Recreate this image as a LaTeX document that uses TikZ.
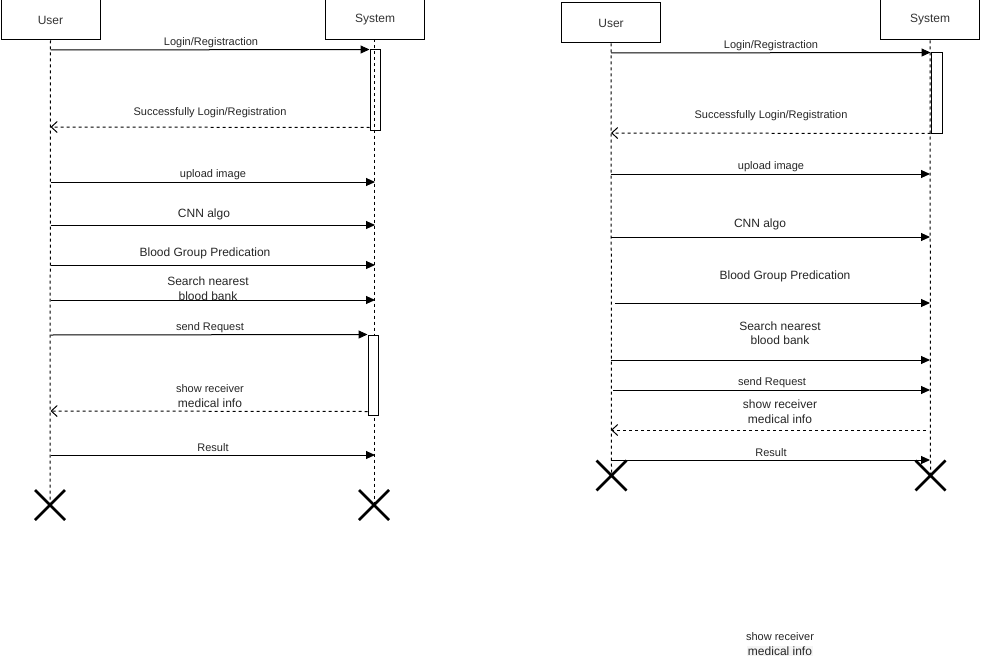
\documentclass[tikz,border=0pt]{standalone}
\usepackage{fontspec}
\setmainfont{Liberation Sans}
\usetikzlibrary{arrows.meta,calc}
\begin{document}
\begin{tikzpicture}[x=1pt,y=-1pt,
  actor/.style={draw, line width=1pt, minimum width=99pt, minimum height=40pt,
    inner sep=0pt, font=\fontsize{12}{14}\selectfont, text=black!80},
  life/.style={line width=1pt, dash pattern=on 3pt off 3pt},
  msg/.style={line width=1pt, -{Triangle[length=9pt,width=8pt]}},
  ret/.style={line width=1pt, dash pattern=on 3pt off 3pt,
    -{Straight Barb[length=6pt,width=11pt]}},
  actbox/.style={draw, line width=1pt, minimum width=10pt, inner sep=0pt},
  small/.style={font=\fontsize{11}{14}\selectfont, inner sep=0pt, align=center,
    text=black!85, yshift=-2pt},
  big/.style={font=\fontsize{12}{14.5}\selectfont, inner sep=0pt, align=center,
    text=black!85, yshift=-2pt},
  kill/.style={line width=2.6pt}
]
\useasboundingbox (0,0) rectangle (981,658);

% ---------------- first sequence ----------------
\node[actor] (u1) at (50.5,20) {User};
\node[actor] (s1) at (375,20) {System};
\coordinate (u1end) at (50,505);
\coordinate (s1end) at (374,505);
\draw[life] (u1.south) -- (u1end);
\draw[life] (s1.south) -- (s1end |- s1.south) -- (s1end);

% activation bars
\node[actbox, minimum height=80pt] (a1) at (375,90) {};
\node[actbox, minimum height=80pt, fill=white] (a2) at (373,375) {};

% messages
\draw[msg] (u1.south |- 0,50) -- (a1.north west);
\node[small] (t1) at (211,41) {Login/Registraction};
\draw[ret] ($(a1.south west)+(0,-3)$) -- (u1.south |- 0,127);
\node[small] (t2) at (210,111) {Successfully Login/Registration};
\draw[msg] (u1.south |- 0,182) -- (s1.south |- 0,182);
\node[small] (t3) at (213,173) {upload image};
\draw[msg] (u1.south |- 0,225) -- (s1.south |- 0,225);
\node[big] (t4) at (204,212) {CNN algo};
\draw[msg] (u1.south |- 0,265) -- (s1.south |- 0,265);
\node[big] (t5) at (205,251) {Blood Group Predication};
\draw[msg] (u1.south |- 0,300) -- (s1.south |- 0,300);
\node[big] (t6) at (208,286.5) {Search nearest\\blood bank};
\draw[msg] (u1.south |- 0,335) -- (a2.north west);
\node[small] (t7) at (210,326) {send Request};
\draw[ret] ($(a2.south west)+(0,-4)$) -- (u1.south |- 0,411);
\node[small] (t8a) at (210,387) {show receiver};
\node[big] (t8b) at (210,401) {medical info};
\draw[msg] (u1.south |- 0,455) -- (s1.south |- 0,455);
\node[small] (t9) at (213,446) {Result};

% destruction marks
\draw[kill] ($(u1end)+(-15,-15)$) -- ($(u1end)+(15,15)$)
            ($(u1end)+(-15,15)$) -- ($(u1end)+(15,-15)$);
\draw[kill] ($(s1end)+(-15,-15)$) -- ($(s1end)+(15,15)$)
            ($(s1end)+(-15,15)$) -- ($(s1end)+(15,-15)$);

% ---------------- second sequence ----------------
\node[actor] (u2) at (611,23) {User};
\node[actor] (s2) at (930,20) {System};
\coordinate (u2end) at (611.5,475.5);
\coordinate (s2end) at (930.5,475.5);
\draw[life] (u2.south) -- (u2end);
\draw[life] (s2.south) -- (s2end);

\node[actbox, minimum width=11pt, minimum height=80pt, fill=white] (a3) at (936.5,93) {};

\draw[msg] (u2.south |- 0,53) -- (a3.north west);
\node[small] (r1) at (771,44) {Login/Registraction};
\draw[ret] (a3.south west) -- (u2.south |- 0,133);
\node[small] (r2) at (771,114) {Successfully Login/Registration};
\draw[msg] (u2.south |- 0,174) -- (s2.south |- 0,174);
\node[small] (r3) at (771,165) {upload image};
\draw[msg] (u2.south |- 0,237) -- (s2.south |- 0,237);
\node[big] (r4) at (760,222) {CNN algo};
\draw[msg] ($(u2.south |- 0,303)+(4,0)$) -- (s2.south |- 0,303);
\node[big] (r5) at (785,274) {Blood Group Predication};
\draw[msg] (u2.south |- 0,360) -- (s2.south |- 0,360);
\node[big] (r6) at (780,331) {Search nearest\\blood bank};
\draw[msg] ($(u2.south |- 0,390)+(2,0)$) -- (s2.south |- 0,390);
\node[small] (r7) at (772,381) {send Request};
\draw[ret] ($(s2.south |- 0,430)+(-4,0)$) -- (u2.south |- 0,430);
\node[big] (r8a) at (780,402) {show receiver};
\node[big] (r8b) at (780,417) {medical info};
\draw[msg] (u2.south |- 0,460) -- (s2.south |- 0,460);
\node[small] (r9) at (771,451) {Result};

\draw[kill] ($(u2end)+(-15,-15)$) -- ($(u2end)+(15,15)$)
            ($(u2end)+(-15,15)$) -- ($(u2end)+(15,-15)$);
\draw[kill] ($(s2end)+(-15,-15)$) -- ($(s2end)+(15,15)$)
            ($(s2end)+(-15,15)$) -- ($(s2end)+(15,-15)$);

% loose label below the diagrams
\node[small] (f1) at (780,635) {show receiver};
\node[big, fill=black!4, inner sep=1pt] (f2) at (780,649) {medical info};
\end{tikzpicture}
\end{document}
